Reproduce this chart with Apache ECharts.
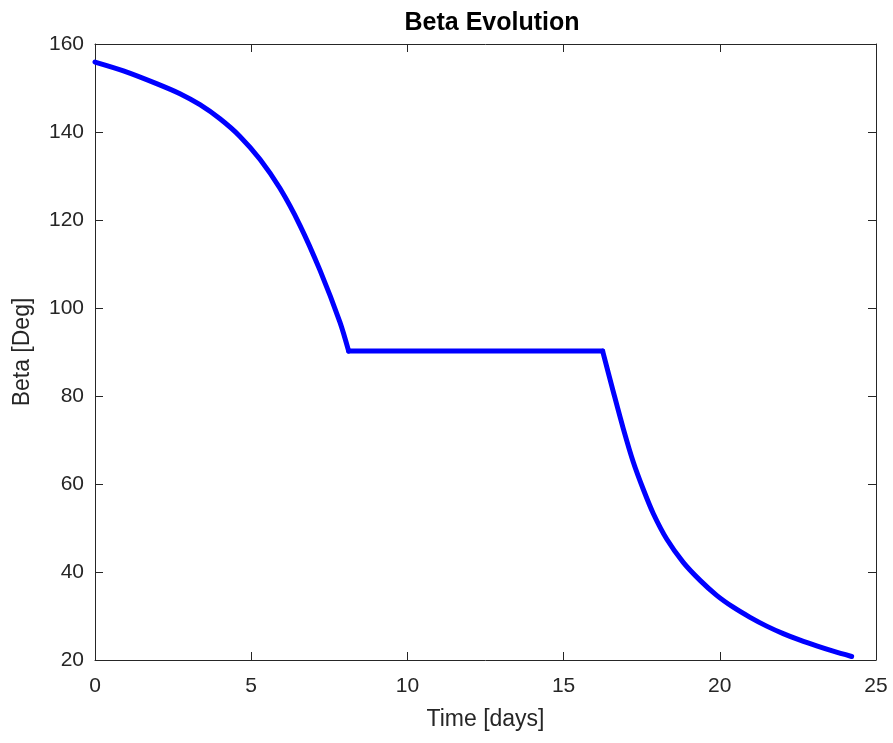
<!DOCTYPE html>
<html>
<head>
    <meta charset="utf-8">
    <style>
        body{
            margin:0;
            padding:0;
            background:#fff;
        }
        #chart{
            width: 893px;
            height: 743px;
        }
    </style>
</head>
<body>
    <div id="chart"></div>
    <script src="https://cdn.jsdelivr.net/npm/echarts@6/dist/echarts.min.js"></script>
    <script>
        // values, in three pieces
        var days1 = [0, 0.91, 1.97, 2.72, 3.36, 4.0, 4.64, 5.28, 5.92, 6.56, 7.2, 7.84, 8.12];
        var beta1 = [155.9, 153.9, 151.0, 148.7, 146.2, 143.0, 139.0, 133.8, 127.2, 118.8, 108.6, 96.8, 90.2];
        var daysFlat = [8.12, 16.25];
        var betaFlat = [90.2, 90.2];
        var days2 = [16.25, 16.59, 16.91, 17.23, 17.55, 17.87, 18.30, 18.83, 19.37, 19.90, 20.43,
                     20.97, 21.5, 22.03, 22.57, 23.1, 23.63, 24.22];
        var beta2 = [90.2, 81.0, 72.6, 65.0, 58.8, 53.3, 47.5, 42.2, 38.1, 34.7, 32.0,
                     29.7, 27.7, 26.0, 24.5, 23.2, 22.0, 20.8];
        var xTicks = [0, 25, 5];
        var yTicks = [20, 160, 20];

        var textColor = '#262626';
        var fontFamily = '"Liberation Sans", Arial, sans-serif';

        function pairs(xs, ys){
            var out = [];
            for (var i = 0; i < xs.length; i++) {
                out.push([xs[i], ys[i]]);
            }
            return out;
        }

        function axisBase(pos, ticks, show){
            return {
                type: 'value',
                position: pos,
                min: ticks[0],
                max: ticks[1],
                interval: ticks[2],
                axisLine: { show: true, onZero: false, lineStyle: { color: textColor, width: 1 } },
                axisTick: { show: true, inside: true, length: 8, lineStyle: { color: textColor } },
                axisLabel: { show: show, color: textColor, fontSize: 21, fontFamily: fontFamily },
                splitLine: { show: false }
            };
        }

        function lineSeries(data, smooth){
            return {
                type: 'line',
                data: data,
                showSymbol: false,
                smooth: smooth,
                lineStyle: { color: '#0000ff', width: 5, cap: 'round', join: 'round' },
                itemStyle: { color: '#0000ff' }
            };
        }

        var chart = echarts.init(document.getElementById('chart'));
        var xb = axisBase('bottom', xTicks, true);
        xb.name = 'Time [days]';
        xb.nameLocation = 'middle';
        xb.nameGap = 48;
        xb.nameTextStyle = { color: textColor, fontSize: 23, fontFamily: fontFamily };
        xb.axisLabel.margin = 16;
        var xt = axisBase('top', xTicks, false);

        var yl = axisBase('left', yTicks, true);
        yl.name = 'Beta [Deg]';
        yl.nameLocation = 'middle';
        yl.nameGap = 61;
        yl.nameTextStyle = { color: textColor, fontSize: 23, fontFamily: fontFamily };
        yl.axisLabel.margin = 11;
        var yr = axisBase('right', yTicks, false);

        var option = {
            animation: false,
            title: {
                text: 'Beta Evolution',
                left: 487,
                textAlign: 'center',
                top: 6,
                textStyle: { color: '#000', fontSize: 25, fontWeight: 'bold', fontFamily: fontFamily }
            },
            grid: { left: 95, right: 17, top: 44, bottom: 83 },
            xAxis: [xb, xt],
            yAxis: [yl, yr],
            series: [
                lineSeries(pairs(days1, beta1), 0.3),
                lineSeries(pairs(daysFlat, betaFlat), false),
                lineSeries(pairs(days2, beta2), 0.3)
            ]
        };
        chart.setOption(option);
    </script>
</body>
</html>
